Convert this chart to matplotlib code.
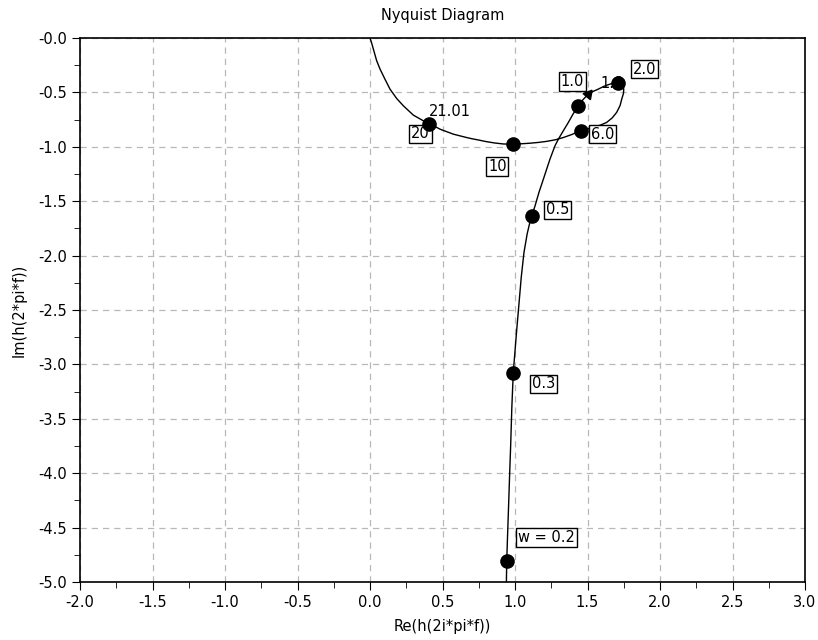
import numpy as np
import matplotlib.pyplot as plt

# Nyquist curve, low frequency (bottom) to high (origin)
re_curve = [0.940, 0.943, 0.948, 0.954, 0.962, 0.970, 0.978, 0.988, 1.001, 1.012,
            1.026, 1.043, 1.062, 1.084, 1.098, 1.115, 1.138, 1.165, 1.195, 1.241, 1.276,
            1.299, 1.330, 1.368, 1.400, 1.437, 1.470, 1.506, 1.540, 1.574, 1.615,
            1.655, 1.680, 1.712, 1.740, 1.750, 1.748, 1.736, 1.725, 1.701, 1.670,
            1.632, 1.590, 1.540, 1.453, 1.390, 1.333, 1.280, 1.219, 1.160, 1.103,
            1.045, 0.986, 0.920, 0.860, 0.800, 0.750, 0.700, 0.667, 0.575, 0.483,
            0.409, 0.368, 0.299, 0.230, 0.184, 0.138, 0.103, 0.069, 0.046, 0.023,
            0.010, 0.0]
im_curve = [-5.05, -4.81, -4.60, -4.37, -4.05, -3.75, -3.40, -3.08, -2.86, -2.68,
            -2.465, -2.20, -1.97, -1.80, -1.72, -1.636, -1.544, -1.42, -1.30, -1.114, -0.99,
            -0.93, -0.86, -0.776, -0.70, -0.623, -0.565, -0.516, -0.490, -0.470, -0.443,
            -0.424, -0.415, -0.414, -0.435, -0.470, -0.510, -0.562, -0.620, -0.684, -0.735,
            -0.776, -0.800, -0.822, -0.853, -0.888, -0.915, -0.935, -0.950, -0.960, -0.967,
            -0.972, -0.976, -0.974, -0.965, -0.952, -0.938, -0.925, -0.915, -0.884, -0.838,
            -0.786, -0.761, -0.709, -0.623, -0.556, -0.470, -0.378, -0.285, -0.209, -0.101,
            -0.040, 0.0]

# marked frequencies
pt_re = [0.943, 0.988, 1.115, 1.437, 1.712, 1.453, 0.986, 0.409]
pt_im = [-4.81, -3.08, -1.636, -0.623, -0.414, -0.853, -0.976, -0.786]

# boxed labels and their anchor (left, centre)
box_labels = ["w = 0.2", "0.3", "0.5", "1.0", "2.0", "6.0", "10", "20"]
box_re = [1.02, 1.117, 1.214, 1.314, 1.814, 1.524, 0.814, 0.283]
box_im = [-4.59, -3.18, -1.58, -0.40, -0.285, -0.884, -1.183, -0.881]

# plain labels
plain_labels = ["21.01", "1.8"]
plain_re = [0.403, 1.586]
plain_im = [-0.672, -0.414]

xticks = [-2.0, -1.5, -1.0, -0.5, 0.0, 0.5, 1.0, 1.5, 2.0, 2.5, 3.0]
yticks = [0.0, -0.5, -1.0, -1.5, -2.0, -2.5, -3.0, -3.5, -4.0, -4.5, -5.0]
ytick_labels = ["-0.0", "-0.5", "-1.0", "-1.5", "-2.0", "-2.5", "-3.0", "-3.5", "-4.0", "-4.5", "-5.0"]

fs = 10.5
plt.rcParams['font.family'] = 'DejaVu Sans'
fig = plt.figure(figsize=(8.18, 6.4), dpi=100)
ax = fig.add_axes([80 / 818, 1 - 582 / 640, 725 / 818, 544 / 640])

ax.plot(re_curve, im_curve, color='black', lw=1.0)
ax.plot(pt_re, pt_im, 'o', color='black', ms=9.5, zorder=4)

# direction arrows
ax.plot([1.506], [-0.516], marker=(3, 0, 200), color='black', ms=8)
ax.plot([0.409], [-0.786], marker=(3, 0, 60), color='black', ms=9)

for s, x, y in zip(box_labels, box_re, box_im):
    ax.text(x, y, s, ha='left', va='center', fontsize=fs,
            bbox=dict(boxstyle='square,pad=0.12', fc='white', ec='black', lw=1))
for s, x, y in zip(plain_labels, plain_re, plain_im):
    ax.text(x, y, s, ha='left', va='center', fontsize=fs, zorder=3)

ax.set_xlim(-2, 3)
ax.set_ylim(-5, 0)
ax.set_xticks(xticks)
ax.set_xticklabels([f"{v:.1f}" for v in xticks])
ax.set_yticks(yticks)
ax.set_yticklabels(ytick_labels)
ax.set_xticks(np.arange(-1.75, 3, 0.5), minor=True)
ax.set_yticks(np.arange(-4.75, 0, 0.5), minor=True)
ax.tick_params(which='major', direction='out', length=6, labelsize=fs)
ax.tick_params(which='minor', direction='out', length=4)
ax.grid(True, which='major', color='#b8b8b8', ls=(0, (5, 4)), lw=0.9)
for sp in ax.spines.values():
    sp.set_linewidth(1.2)

ax.set_title("Nyquist Diagram", fontsize=fs, pad=13)
ax.set_xlabel("Re(h(2i*pi*f))", fontsize=fs, labelpad=6)
ax.set_ylabel("Im(h(2*pi*f))", fontsize=fs, labelpad=8)

fig.savefig("out.png", dpi=100)
